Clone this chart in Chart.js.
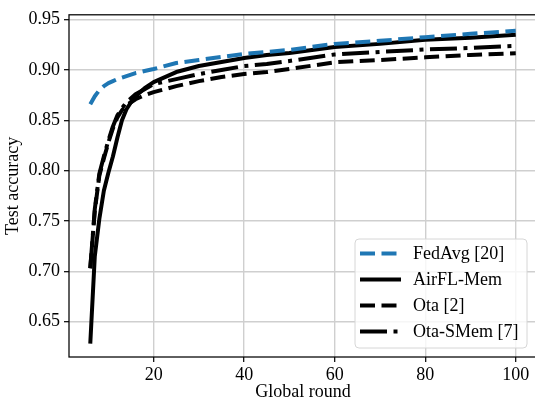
<!DOCTYPE html>
<html>
<head>
<meta charset="utf-8">
<script src="https://cdn.jsdelivr.net/npm/chart.js@4.4.1/dist/chart.umd.min.js"></script>
<style>
    html, body { margin: 0; padding: 0; background: #fff; overflow: hidden; }
    #wrap { width: 535px; height: 404px; overflow: hidden; }
</style>
</head>
<body>
<div id="wrap"><canvas id="myChart" width="545" height="404"></canvas></div>
<script>
// Data
    var rounds   = [6, 7, 8, 9, 10, 11, 12, 13, 14, 15, 16, 18, 20, 25, 30, 35, 40, 45, 50, 60, 70, 80, 90, 100];
    var fedAvg   = [0.866, 0.874, 0.880, 0.884, 0.887, 0.889, 0.891, 0.8925, 0.894, 0.8955, 0.897, 0.899, 0.901, 0.907, 0.910, 0.913, 0.916, 0.918, 0.920, 0.926, 0.929, 0.9327, 0.936, 0.939];
    var airflMem = [0.628, 0.715, 0.752, 0.780, 0.798, 0.814, 0.833, 0.850, 0.861, 0.868, 0.874, 0.882, 0.888, 0.898, 0.904, 0.908, 0.912, 0.915, 0.917, 0.923, 0.926, 0.930, 0.932, 0.935];
    var ota      = [0.703, 0.760, 0.795, 0.812, 0.828, 0.842, 0.853, 0.860, 0.865, 0.868, 0.871, 0.875, 0.878, 0.884, 0.889, 0.893, 0.896, 0.898, 0.901, 0.9077, 0.910, 0.9126, 0.915, 0.9166];
    var otaSMem  = [0.703, 0.762, 0.797, 0.814, 0.830, 0.844, 0.855, 0.862, 0.868, 0.872, 0.876, 0.881, 0.886, 0.891, 0.896, 0.900, 0.904, 0.906, 0.909, 0.9155, 0.918, 0.9204, 0.922, 0.924];

    var labels = ['FedAvg [20]', 'AirFL-Mem', 'Ota [2]', 'Ota-SMem [7]'];
    var xTicks = [20, 40, 60, 80, 100];
    var yTicks = [0.65, 0.70, 0.75, 0.80, 0.85, 0.90, 0.95];

    var FONT = '"Liberation Serif", "Times New Roman", serif';
    var FSIZE = 18;

    function toPoints(ys) {
        return rounds.map(function(r, i){ return {x: r, y: ys[i]}; });
    }

    function makeSet(label, ys, color, dash) {
        return {
            label: label,
            data: toPoints(ys),
            borderColor: color,
            backgroundColor: color,
            borderWidth: 4,
            borderDash: dash,
            borderCapStyle: 'butt',
            borderJoinStyle: 'round',
            pointRadius: 0,
            tension: 0,
            fill: false
        };
    }

// Frame (all four spines) on top of the lines
    var framePlugin = {
        id: 'frame',
        afterDatasetsDraw: function(chart) {
            var a = chart.chartArea, ctx = chart.ctx;
            ctx.save();
            ctx.strokeStyle = '#000';
            ctx.lineWidth = 1.25;
            ctx.strokeRect(a.left, a.top, a.right - a.left, a.bottom - a.top);
            ctx.restore();
        }
    };

// Matplotlib-like legend box in the lower right
    var legendPlugin = {
        id: 'mplLegend',
        afterDraw: function(chart) {
            var ctx = chart.ctx;
            var x0 = 355, y0 = 239, w = 172, h = 109, r = 4;
            ctx.save();
            ctx.beginPath();
            ctx.moveTo(x0 + r, y0);
            ctx.arcTo(x0 + w, y0, x0 + w, y0 + h, r);
            ctx.arcTo(x0 + w, y0 + h, x0, y0 + h, r);
            ctx.arcTo(x0, y0 + h, x0, y0, r);
            ctx.arcTo(x0, y0, x0 + w, y0, r);
            ctx.closePath();
            ctx.fillStyle = 'rgba(255,255,255,0.8)';
            ctx.fill();
            ctx.strokeStyle = '#d6d6d6';
            ctx.lineWidth = 1;
            ctx.stroke();

            ctx.font = FSIZE + 'px ' + FONT;
            ctx.textBaseline = 'middle';
            chart.data.datasets.forEach(function(ds, i){
                var yy = 253.5 + i * 26;
                ctx.beginPath();
                ctx.setLineDash(ds.borderDash || []);
                ctx.lineCap = 'butt';
                ctx.strokeStyle = ds.borderColor;
                ctx.lineWidth = 4;
                ctx.moveTo(360, yy);
                ctx.lineTo(401, yy);
                ctx.stroke();
                ctx.setLineDash([]);
                ctx.fillStyle = '#000';
                ctx.fillText(ds.label, 413, yy + 1);
            });
            ctx.restore();
        }
    };

    var ctx = document.getElementById('myChart').getContext('2d');
    var chart = new Chart(ctx, {
        type: 'line',
        data: {
            datasets: [
                makeSet(labels[0], fedAvg, '#1f77b4', [15, 6.5]),
                makeSet(labels[1], airflMem, '#000000', []),
                makeSet(labels[2], ota, '#000000', [15, 6.5]),
                makeSet(labels[3], otaSMem, '#000000', [27, 6.5, 4, 6.5])
            ]
        },
        options: {
            responsive: false,
            animation: false,
            devicePixelRatio: 1,
            layout: { padding: { left: 0, top: 9, right: 8, bottom: 0 } },
            plugins: {
                legend: { display: false },
                tooltip: { enabled: false }
            },
            scales: {
                x: {
                    type: 'linear',
                    min: 1.3,
                    max: 104.7,
                    afterBuildTicks: function(scale){
                        scale.ticks = xTicks.map(function(v){ return {value: v}; });
                    },
                    afterFit: function(scale){ scale.height = 47; },
                    grid: { color: '#cfcfcf', lineWidth: 1.4, tickColor: '#000', tickLength: 5, tickWidth: 1.2 },
                    border: { display: false },
                    ticks: {
                        color: '#000',
                        font: { family: FONT, size: FSIZE },
                        padding: 2,
                        maxRotation: 0,
                        callback: function(v){ return String(v); }
                    },
                    title: {
                        display: true,
                        text: 'Global round',
                        color: '#000',
                        font: { family: FONT, size: FSIZE },
                        padding: { top: 0, bottom: 1 }
                    }
                },
                y: {
                    type: 'linear',
                    min: 0.6148,
                    max: 0.9549,
                    afterBuildTicks: function(scale){
                        scale.ticks = yTicks.map(function(v){ return {value: v}; });
                    },
                    afterFit: function(scale){ scale.width = 69; },
                    grid: { color: '#cfcfcf', lineWidth: 1.4, tickColor: '#000', tickLength: 5, tickWidth: 1.2 },
                    border: { display: false },
                    ticks: {
                        color: '#000',
                        font: { family: FONT, size: FSIZE },
                        padding: 4,
                        callback: function(v){ return v.toFixed(2); }
                    },
                    title: {
                        display: true,
                        text: 'Test accuracy',
                        color: '#000',
                        font: { family: FONT, size: FSIZE },
                        padding: { top: 2, bottom: 0 }
                    }
                }
            }
        },
        plugins: [framePlugin, legendPlugin]
    });
</script>
</body>
</html>
